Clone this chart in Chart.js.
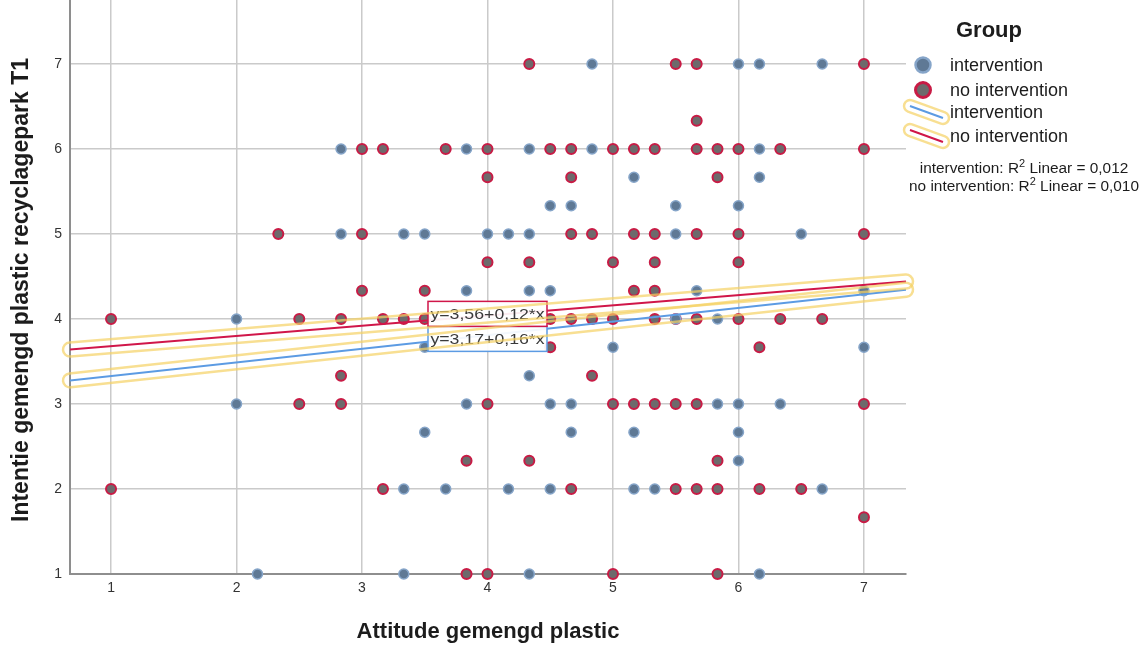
<!DOCTYPE html>
<html>
<head>
<meta charset="utf-8">
<script src="https://cdn.jsdelivr.net/npm/chart.js@4/dist/chart.umd.min.js"></script>
<style>
  html, body { margin: 0; padding: 0; background: #ffffff; }
  #wrap { width: 1148px; height: 645px; position: relative; }
</style>
</head>
<body>
<div id="wrap"><canvas id="c" width="1148" height="645"></canvas></div>
<script>
// Group names
const groups = ['intervention', 'no intervention'];

// Attitude (x) and intention (y) per respondent, intervention group
const interventionX = [4.833, 6, 6.167, 6.667,
  2.833, 3.833, 4.333, 4.833, 6.167,
  5.167, 6.167,
  4.5, 4.667, 5.5, 6,
  2.833, 3.333, 3.5, 4, 4.167, 4.333, 5.5, 6.5,
  3.833, 4.333, 4.5, 5.667, 7,
  2, 5.5, 5.833,
  3.5, 5, 7,
  4.333,
  2, 3.833, 4.5, 4.667, 5.833, 6, 6.333,
  3.5, 4.667, 5.167, 6,
  6,
  3.333, 3.667, 4.167, 4.5, 5.167, 5.333, 6.667,
  2.167, 3.333, 4.333, 6.167];
const interventionY = [7, 7, 7, 7,
  6, 6, 6, 6, 6,
  5.667, 5.667,
  5.333, 5.333, 5.333, 5.333,
  5, 5, 5, 5, 5, 5, 5, 5,
  4.333, 4.333, 4.333, 4.333, 4.333,
  4, 4, 4,
  3.667, 3.667, 3.667,
  3.333,
  3, 3, 3, 3, 3, 3, 3,
  2.667, 2.667, 2.667, 2.667,
  2.333,
  2, 2, 2, 2, 2, 2, 2,
  1, 1, 1, 1];

// Attitude (x) and intention (y) per respondent, no-intervention group
const noInterventionX = [4.333, 5.5, 5.667, 7,
  5.667,
  3, 3.167, 3.667, 4, 4.5, 4.667, 5, 5.167, 5.333, 5.667, 5.833, 6, 6.333, 7,
  4, 4.667, 5.833,
  2.333, 3, 4.667, 4.833, 5.167, 5.333, 5.667, 6, 7,
  4, 4.333, 5, 5.333, 6,
  3, 3.5, 5.167, 5.333,
  1, 2.5, 2.833, 3.167, 3.333, 3.5, 4.5, 4.667, 4.833, 5, 5.333, 5.5, 5.667, 6, 6.333, 6.667,
  4.5, 6.167,
  2.833, 4.833,
  2.5, 2.833, 4, 5, 5.167, 5.333, 5.5, 5.667, 7,
  3.833, 4.333, 5.833,
  1, 3.167, 4.667, 5.5, 5.667, 5.833, 6.167, 6.5,
  7,
  3.833, 4, 5, 5.833];
const noInterventionY = [7, 7, 7, 7,
  6.333,
  6, 6, 6, 6, 6, 6, 6, 6, 6, 6, 6, 6, 6, 6,
  5.667, 5.667, 5.667,
  5, 5, 5, 5, 5, 5, 5, 5, 5,
  4.667, 4.667, 4.667, 4.667, 4.667,
  4.333, 4.333, 4.333, 4.333,
  4, 4, 4, 4, 4, 4, 4, 4, 4, 4, 4, 4, 4, 4, 4, 4,
  3.667, 3.667,
  3.333, 3.333,
  3, 3, 3, 3, 3, 3, 3, 3, 3,
  2.333, 2.333, 2.333,
  2, 2, 2, 2, 2, 2, 2, 2,
  1.667,
  1, 1, 1, 1];

// Linear fit per group: y = intercept + slope * x
const fitIntercept = [3.17, 3.56];
const fitSlope = [0.16, 0.12];
const fitLabels = ['y=3,17+0,16*x', 'y=3,56+0,12*x'];
const fitR2 = ['0,012', '0,010'];

// Axis ticks and range
const xTicks = [1, 2, 3, 4, 5, 6, 7];
const yTicks = [1, 2, 3, 4, 5, 6, 7];
const xRange = [0.673, 7.335];
const yRange = [1, 7.753];

const xTitle = 'Attitude gemengd plastic';
const yTitle = 'Intentie gemengd plastic recyclagepark T1';
const legendTitle = 'Group';

const FONT = '"Liberation Sans", Arial, sans-serif';
const BLUE_FILL = '#5f7995', BLUE_EDGE = '#86a5c9';
const RED_FILL = '#6d6a6c', RED_EDGE = '#c81b45';
const BLUE_LINE = '#5c9be3', RED_LINE = '#d01649';
const HALO = 'rgba(245, 210, 100, 0.7)';

const toPoints = (xs, ys) => xs.map((x, i) => ({ x: x, y: ys[i] }));
const fitPoints = g => xRange.map(x => ({ x: x, y: fitIntercept[g] + fitSlope[g] * x }));

// Capsule outline around a segment
function capsule(ctx, x0, y0, x1, y1, r, color, width) {
  const len = Math.hypot(x1 - x0, y1 - y0);
  const ang = Math.atan2(y1 - y0, x1 - x0);
  ctx.save();
  ctx.translate(x0, y0);
  ctx.rotate(ang);
  ctx.beginPath();
  ctx.moveTo(0, -r);
  ctx.lineTo(len, -r);
  ctx.arc(len, 0, r, -Math.PI / 2, Math.PI / 2);
  ctx.lineTo(0, r);
  ctx.arc(0, 0, r, Math.PI / 2, Math.PI * 1.5);
  ctx.closePath();
  ctx.strokeStyle = color;
  ctx.lineWidth = width;
  ctx.stroke();
  ctx.restore();
}

function stretchedText(ctx, text, x, y, font, sx, color) {
  ctx.save();
  ctx.font = font;
  ctx.fillStyle = color;
  ctx.textAlign = 'center';
  ctx.textBaseline = 'middle';
  ctx.translate(x, y);
  ctx.scale(sx, 1);
  ctx.fillText(text, 0, 0);
  ctx.restore();
}

const overlay = {
  id: 'overlay',
  afterDatasetsDraw(chart) {
    const ctx = chart.ctx;
    const xs = chart.scales.x, ys = chart.scales.y;
    // equation boxes at x = 4
    const cx = xs.getPixelForValue(4);
    const yBlue = ys.getPixelForValue(fitIntercept[0] + fitSlope[0] * 4);
    const yRed = ys.getPixelForValue(fitIntercept[1] + fitSlope[1] * 4);
    const mid = (yBlue + yRed) / 2 + 1;
    const bw = 119, bh = 25;
    const boxes = [
      { top: mid, edge: BLUE_LINE, text: fitLabels[0] },
      { top: mid - bh, edge: RED_LINE, text: fitLabels[1] }
    ];
    boxes.forEach(b => {
      ctx.save();
      ctx.fillStyle = 'rgba(255,255,255,0.92)';
      ctx.fillRect(cx - bw / 2, b.top, bw, bh);
      ctx.strokeStyle = b.edge;
      ctx.lineWidth = 1.5;
      ctx.strokeRect(cx - bw / 2, b.top, bw, bh);
      ctx.restore();
      stretchedText(ctx, b.text, cx, b.top + bh / 2 + 1, '15px ' + FONT, 1.18, '#3a3a3a');
    });
    // halos around the fit lines
    [0, 1].forEach(g => {
      const p = fitPoints(g);
      capsule(ctx, xs.getPixelForValue(p[0].x), ys.getPixelForValue(p[0].y),
        xs.getPixelForValue(p[1].x), ys.getPixelForValue(p[1].y), 7, HALO, 2.5);
    });
  },
  afterDraw(chart) {
    const ctx = chart.ctx;
    const area = chart.chartArea;
    ctx.save();
    ctx.fillStyle = '#1c1c1c';
    ctx.font = 'bold 22px ' + FONT;
    ctx.textAlign = 'center';
    ctx.textBaseline = 'middle';
    ctx.fillText(xTitle, (area.left + area.right) / 2, 632);
    ctx.save();
    ctx.translate(22, 290);
    ctx.rotate(-Math.PI / 2);
    ctx.font = 'bold 23px ' + FONT;
    ctx.fillText(yTitle, 0, 0);
    ctx.restore();

    // legend
    ctx.fillText(legendTitle, 989, 31);
    ctx.font = '18px ' + FONT;
    ctx.textAlign = 'left';
    const markers = [
      { y: 65, fill: BLUE_FILL, edge: BLUE_EDGE, ew: 2.5 },
      { y: 90, fill: RED_FILL, edge: RED_EDGE, ew: 3 }
    ];
    markers.forEach((m, i) => {
      ctx.beginPath();
      ctx.arc(923, m.y, 7.5, 0, Math.PI * 2);
      ctx.fillStyle = m.fill;
      ctx.fill();
      ctx.strokeStyle = m.edge;
      ctx.lineWidth = m.ew;
      ctx.stroke();
      ctx.fillStyle = '#1c1c1c';
      ctx.fillText(groups[i], 950, m.y + 1);
    });
    const lines = [{ y: 112, c: BLUE_LINE }, { y: 136, c: RED_LINE }];
    lines.forEach((l, i) => {
      capsule(ctx, 910, l.y - 6, 943, l.y + 6, 6, HALO, 2.5);
      ctx.beginPath();
      ctx.moveTo(910, l.y - 6);
      ctx.lineTo(943, l.y + 6);
      ctx.strokeStyle = l.c;
      ctx.lineWidth = 2;
      ctx.stroke();
      ctx.fillStyle = '#1c1c1c';
      ctx.fillText(groups[i], 950, l.y + 1);
    });

    // R-squared notes with superscript
    [0, 1].forEach(g => {
      const y = 169 + g * 18;
      const a = groups[g] + ': R';
      const b = ' Linear = ' + fitR2[g];
      ctx.font = '14px ' + FONT;
      const wa = ctx.measureText(a).width, wb = ctx.measureText(b).width;
      ctx.font = '10px ' + FONT;
      const ws = ctx.measureText('2').width;
      const sx = 1.1;
      const total = (wa + ws + wb) * sx;
      let x = 1024 - total / 2;
      ctx.save();
      ctx.translate(x, y);
      ctx.scale(sx, 1);
      ctx.fillStyle = '#1c1c1c';
      ctx.textAlign = 'left';
      ctx.font = '14px ' + FONT;
      ctx.fillText(a, 0, 0);
      ctx.font = '10px ' + FONT;
      ctx.fillText('2', wa, -5);
      ctx.font = '14px ' + FONT;
      ctx.fillText(b, wa + ws, 0);
      ctx.restore();
    });
    ctx.restore();
  }
};

const pointSet = (label, xs, ys, fill, edge, bw) => ({
  type: 'scatter', label: label, data: toPoints(xs, ys),
  backgroundColor: fill, borderColor: edge, borderWidth: bw,
  pointRadius: 5, pointHoverRadius: 5, clip: false, order: 3
});
const lineSet = (g, color) => ({
  type: 'line', label: groups[g] + ' fit', data: fitPoints(g),
  borderColor: color, borderWidth: 2, pointRadius: 0, fill: false, order: 1
});

// remove the label overhang padding so the plot runs to the canvas top
const noOverhang = s => {
  s.paddingTop = 0; s.paddingBottom = 0; s.paddingLeft = 0; s.paddingRight = 0;
};

new Chart(document.getElementById('c'), {
  data: {
    datasets: [
      pointSet(groups[0], interventionX, interventionY, BLUE_FILL, BLUE_EDGE, 1.5),
      pointSet(groups[1], noInterventionX, noInterventionY, RED_FILL, RED_EDGE, 2),
      lineSet(0, BLUE_LINE),
      lineSet(1, RED_LINE)
    ]
  },
  options: {
    responsive: false,
    animation: false,
    devicePixelRatio: 1,
    layout: { autoPadding: false, padding: { left: 0, top: 0, right: 242, bottom: 0 } },
    plugins: { legend: { display: false }, tooltip: { enabled: false }, title: { display: false } },
    scales: {
      x: {
        type: 'linear', position: 'bottom', min: xRange[0], max: xRange[1],
        afterBuildTicks: s => { s.ticks = xTicks.map(v => ({ value: v })); },
        afterFit: s => { s.height = 71; noOverhang(s); },
        ticks: { padding: 6, color: '#333', font: { family: FONT, size: 14 }, includeBounds: false },
        grid: { color: '#cacaca', lineWidth: 1.5, drawTicks: false },
        border: { color: '#8e8e8e', width: 2 }
      },
      y: {
        type: 'linear', position: 'left', min: yRange[0], max: yRange[1],
        afterBuildTicks: s => { s.ticks = yTicks.map(v => ({ value: v })); },
        afterFit: s => { s.width = 70; noOverhang(s); },
        ticks: { padding: 8, color: '#333', font: { family: FONT, size: 14 }, includeBounds: false },
        grid: { color: '#cacaca', lineWidth: 1.5, drawTicks: false },
        border: { color: '#8e8e8e', width: 2 }
      }
    }
  },
  plugins: [overlay]
});
</script>
</body>
</html>
